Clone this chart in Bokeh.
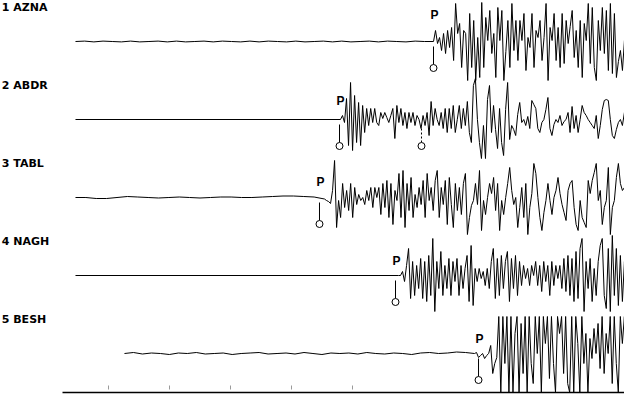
import numpy as np
from bokeh.plotting import figure
from bokeh.models import Range1d
from bokeh.embed import file_html
from bokeh.resources import INLINE
from bokeh.core.properties import value

# ---------------- data (time in seconds, amplitude in scaled counts) ----------------
stations = ["1 AZNA", "2 ABDR", "3 TABL", "4 NAGH", "5 BESH"]
record_start = [0.459, 0.459, 0.459, 0.459, 1.262]
record_end = 9.590
signal_start = [6.361, 4.836, 4.574, 5.787, 7.033]
sample_interval = 0.0328
p_pick = [6.328, 4.787, 4.459, 5.705, 7.066]
second_pick_abdr = 6.131
tick_times = [1, 2, 3, 4, 5]
time_axis_start = 0.246

noise_azna = [0, 0.4, -0.4, 0.4, 0, -0.4, 0.4, -0.4, 0, 0.4, -0.4, 0.4, -0.4, 0, 0.4,
              -0.4, 0.4, 0, -0.4, 0.4, -0.4, 0.4, 0, -0.4, 0.4, -0.4, 0, 0.4, -0.4, 0.4,
              -0.4, 0, 0.4, -0.4, 0.4, 0, -0.4, 0.4, 0, 0]
noise_abdr = [0, 0]
noise_tabl = [0, 0, -1, -1, 0, 1, 0.5, 0, -0.5, 0, 0.5, 0, -0.5, 0, 0.5, 0.5, 0, 0,
              0.5, 1, 1.5, 1.5, 1, 0.5, -1.5]
noise_nagh = [0, 0]
noise_besh = [0, 1, -0.5, 0.5, 0, -1, 0.5, 0, 1, -0.5, 0, 0.5, -1, 0, 0.5, 1, -0.5, 0,
              0.5, -0.5, 1, 0, -1, 0.5, 0, 0.5, -0.5, 1, 0, -0.5, 0.5, 0, -1, 0.5, 1, 0,
              0.5, 1.5, 1, 0]

wave_azna = [11, -2, 4, -9, 8, -12, 11, -6, 14, -19, 38, 8, 18, -26, 11, 8, -39, 28, -26,
             21, -39, 4, -36, 39, -26, 24, 1, 31, -12, 8, -36, 34, 1, 31, -39, -10, 21,
             -26, 38, -9, 21, -19, 21, 1, 28, -29, 4, -6, 28, -26, 11, 4, 21, -19, 4, 38,
             -39, 14, 1, 28, -19, 14, -26, 28, -22, 21, -2, 15, 31, -16, 11, -26, 21, -36,
             18, 1, 38, -22, 34, -26, -39, 21, -9, 34, -12, 31, -29, 38, -32, 28, -36,
             -20, -9, -29, 1, -39, 11, 14, 8]
wave_abdr = [4, -3, 21, -26, 37, -31, 24, -23, 17, -26, 14, -13, 11, -6, 11, -3, 11, -3,
             -6, 7, 1, 7, 2, -3, 4, 11, -19, 14, -3, 11, -6, 7, -9, 7, -3, 7, -6, 4, 0,
             -9, 4, -6, 7, -16, 18, -6, 11, 0, -6, 7, -9, 11, -13, 11, -9, 14, -13, 0, 14,
             -9, 11, -6, 18, -13, -23, 34, 41, 0, -23, -39, -6, -39, 20, 34, -13, 14, -10,
             -29, 11, -23, -36, 10, 37, -20, -6, -10, -16, 5, 17, -3, 0, -6, 3, -9, 19,
             15, 11, -9, -13, -3, 0, 10, 22, -9, -16, -5, 0, -3, 4, -6, -2, 0, 7, -13, 13,
             -9, 4, -13, 0, 14, 7, 4, 0, -3, -6, -9, 4, -19, -6, 10, 19, 20, 19, 0, -16,
             -19, -10, -3, 0, -6, 7, 0, -4, -9, 0]
wave_tabl = [-3, -4, -6, 7, 37, -30, -3, -20, 14, -10, 7, -13, 14, -20, 10, -7, 3, -3, 0,
             -7, 7, -3, 10, -10, 10, 0, 10, -17, 14, -10, 17, -20, 14, -27, 7, -3, 24, -20,
             27, -30, 14, -13, 20, -20, 3, -10, 10, -7, 17, -20, 24, -3, 10, -13, 17, 27,
             -20, 10, -7, 17, -27, 20, -7, -30, 14, -13, 10, -17, 14, 24, -37, -20, -8,
             -3, 14, -7, 27, -33, -3, -17, 0, 14, 4, 20, -13, 14, -33, -3, -17, 0, 14, 30,
             7, -7, 0, -30, -10, 10, -20, 14, -37, -10, 4, 34, 24, 0, -20, -33, -15, -3,
             14, -3, -17, 0, 7, 20, 4, -7, -15, -23, 7, 14, 17, -10, -27, -33, -3, -20,
             -25, -30, 17, 4, 17, 25, 34, -3, 7, -27, -10, -3, 30, -37, -10, -3, 20, 34,
             14, 7, 10, -7, 0, -3, -3]
wave_nagh = [0, 4, -6, 10, 27, -23, 14, -20, 10, -13, 17, -23, 14, -26, 20, -20, 37, -36,
             14, -13, 24, -20, 10, -13, 17, -20, 14, -6, 17, -20, 10, -13, 7, 20, -26, 30,
             -30, 7, -6, 7, -3, 4, -10, 7, -13, 14, 27, -23, 17, -20, 20, -13, 14, 24, -26,
             17, -13, 20, -20, 14, -10, 10, -3, 7, -10, 10, 0, 14, -10, 10, -16, 14, -6,
             10, -20, 14, -10, 10, -3, 10, -13, 17, -16, 20, -20, 17, -26, 24, -23, 27,
             37, -36, 14, -13, 17, -26, 7, -20, 14, 30, 37, -20, -33, 27, -36, 40, -20, 27,
             -30, 20, -26, 14, -36, 7, 17, 10]
wave_besh = [1, -4, -2, 0, -5, -2, 0, 8, -20, -10, -4, 45, -45, 45, -10, 45, -45, 45, -45,
             20, 45, -45, 30, -20, 45, -45, 45, -10, -30, 45, 0, 45, -45, 40, 10, 45, -25,
             45, -10, -45, 45, 20, 45, -20, 45, -30, -45, 45, -45, 45, 10, -45, 45, -10,
             20, -45, 15, -5, 25, 0, 30, -15, 45, -20, 20, 0, 45, -30, 45, -10, -45, 45,
             10, 45, -45, 45, -20, 45]

noises = [noise_azna, noise_abdr, noise_tabl, noise_nagh, noise_besh]
waves = [wave_azna, wave_abdr, wave_tabl, wave_nagh, wave_besh]

# ---------------- layout / style ----------------
top_baseline = 364
spacing = 78
label_rise = 34
p_rise = [27, 19, 16, 15, 15]
clip_lo, clip_hi = -39, 37       # recorder saturation on BESH
axis_y = 13
label_x = -0.75

p = figure(width=624, height=397, x_range=Range1d(-0.7705, 9.459),
           y_range=Range1d(8, 405), output_backend="svg", toolbar_location=None,
           min_border=0, x_axis_type=None, y_axis_type=None)
p.grid.visible = False
p.outline_line_color = None
p.background_fill_color = "white"

for i in range(5):
    base = top_baseline - i * spacing
    tn = np.linspace(record_start[i], signal_start[i] - sample_interval, len(noises[i]))
    tw = np.linspace(signal_start[i], record_end, len(waves[i]))
    amp = np.array(waves[i], dtype=float)
    if i == 4:
        amp = np.clip(amp, clip_lo, clip_hi)
    x = np.concatenate([tn, tw])
    y = base + np.concatenate([np.array(noises[i], dtype=float), amp])
    p.line(x, y, line_color="black", line_width=1)

    p.text(x=[label_x], y=[base + label_rise], text=[stations[i]],
           text_font=value("DejaVu Sans"), text_font_style="bold",
           text_font_size="11px", text_color="black",
           text_align="left", text_baseline="alphabetic")

    p.text(x=[p_pick[i]], y=[base + p_rise[i]], text=["P"], x_offset=1,
           text_font=value("Liberation Sans"), text_font_style="bold",
           text_font_size="12px", text_color="black",
           text_align="center", text_baseline="alphabetic")
    p.segment(x0=[p_pick[i]], y0=[base - 5], x1=[p_pick[i]], y1=[base - 23],
              line_color="black", line_width=1)
    p.scatter(x=[p_pick[i]], y=[base - 26.5], marker="circle", size=7,
              fill_color="white", line_color="black", line_width=1)

# secondary (dotted) pick on ABDR
b2 = top_baseline - spacing
p.segment(x0=[second_pick_abdr], y0=[b2 - 9], x1=[second_pick_abdr], y1=[b2 - 23],
          line_color="black", line_width=1, line_dash="2 2")
p.scatter(x=[second_pick_abdr], y=[b2 - 26.5], marker="circle", size=7,
          fill_color="white", line_color="black", line_width=1)

# time axis
p.segment(x0=[time_axis_start], y0=[axis_y], x1=[record_end], y1=[axis_y],
          line_color="black", line_width=1.3)
p.segment(x0=tick_times, y0=[axis_y + 3] * len(tick_times), x1=tick_times,
          y1=[axis_y + 7] * len(tick_times), line_color="#9a9a9a", line_width=1)

open("out.html", "w").write(file_html(p, INLINE))
